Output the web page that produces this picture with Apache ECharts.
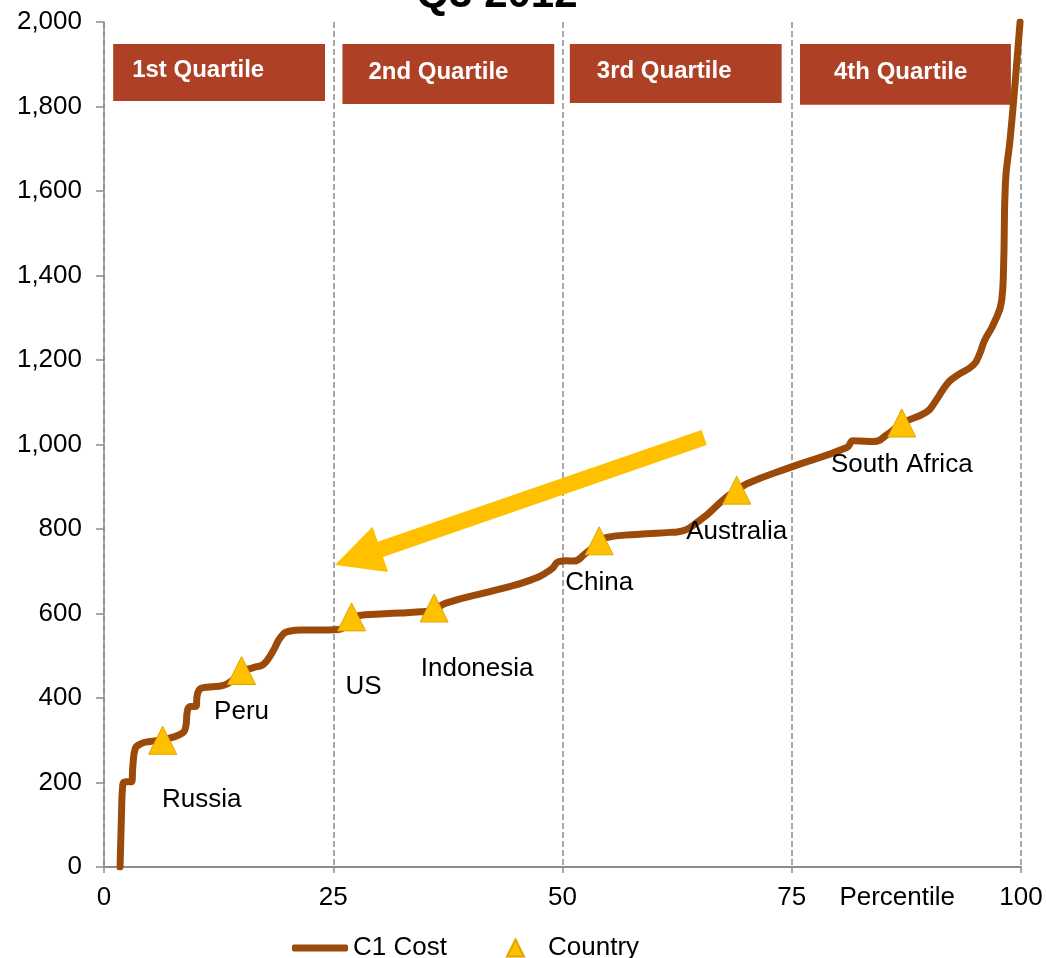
<!DOCTYPE html>
<html>
<head>
<meta charset="utf-8">
<script src="https://cdn.jsdelivr.net/npm/echarts@6/dist/echarts.min.js"></script>
<style>
html,body{margin:0;padding:0;background:#fff;}
#chart{width:1046px;height:958px;}
</style>
</head>
<body>
<div id="chart"></div>
<script>
// ---- data ----
var c1Cost = [
  [1.75,0],[1.9,120],[2.05,195],[2.4,202],[3.0,202],[3.15,240],[3.4,280],[4.2,293],[5.0,297],
  [6.5,302],[8.3,314],[8.9,330],[9.1,370],[9.4,380],[10.0,380],[10.2,410],[10.6,423],[11.5,426],
  [13.0,430],[14.2,445],[15.0,462],[16.3,472],[17.4,480],[18.4,510],[19.3,545],[20.2,558],
  [21.5,561],[24.5,561],[25.6,562],[26.5,575],[27.5,593],[28.5,597],[32.3,601],[34.5,604],
  [36.0,608],[37.2,624],[42.8,656],[46.5,679],[48.8,705],[49.6,723],[50.5,725],[51.2,724],
  [52.5,742],[54.0,768],[54.8,780],[58.0,787],[61.7,792],[62.5,793],[65.0,821],[67.9,876],
  [69.0,890],[70.1,907],[75.0,947],[81.0,993],[81.7,1009],[82.5,1008],[83.9,1007],[85.5,1025],
  [87.0,1050],[89.7,1077],[90.6,1100],[92.0,1145],[93.0,1163],[94.8,1188],[95.5,1215],
  [96.0,1245],[97.0,1285],[97.9,1342],[98.1,1420],[98.3,1618],[98.8,1720],[99.2,1815],
  [99.6,1920],[99.9,2000]
];
var countryNames = ['Russia','Peru','US','Indonesia','China','Australia','South Africa'];
var countryX = [6.4, 15, 27, 36, 54, 69, 87];
var countryY = [300, 465, 592, 613, 772, 892, 1051];
var quartileNames = ['1st Quartile','2nd Quartile','3rd Quartile','4th Quartile'];
var xTicks = [0, 25, 50, 75, 100];
var titleText = 'Q3 2012';
var xAxisTitle = 'Percentile';

// ---- layout (not data) ----
var FONT = '"Liberation Sans", Arial, sans-serif';
var labelOffsets = [[39,27],[0,9],[12,37],[43,28],[0,9],[0,9],[0,9]];
var boxRanges = [[1.0,24.1,1813],[26.0,49.1,1806],[50.8,73.9,1808],[75.9,98.9,1804]];
var boxTop = 1948;
var boxTextInset = [19,26,27,34];

var chart = echarts.init(document.getElementById('chart'));

var countryData = countryNames.map(function(n,i){
  return {
    name: n,
    value: [countryX[i], countryY[i]],
    label: { offset: labelOffsets[i] }
  };
});

var areaData = quartileNames.map(function(n,i){
  return [
    { name: n, xAxis: boxRanges[i][0], yAxis: boxTop,
      label: { distance: boxTextInset[i] } },
    { xAxis: boxRanges[i][1], yAxis: boxRanges[i][2] }
  ];
});

var option = {
  animation: false,
  textStyle: { fontFamily: FONT },
  grid: { left: 104, right: 25, top: 22, bottom: 91, containLabel: false },
  xAxis: {
    type: 'value', min: 0, max: 100, interval: 25,
    axisLine: { lineStyle: { color: '#8c8c8c', width: 2 } },
    axisTick: { show: true, length: 8, lineStyle: { color: '#8c8c8c', type: 'dashed', width: 1.5 } },
    axisLabel: { color: '#000', fontSize: 26, fontFamily: FONT, margin: 18,
      formatter: function(v){ return xTicks.indexOf(v) >= 0 ? String(v) : ''; } },
    splitLine: { show: true, lineStyle: { color: '#8c8c8c', type: 'dashed', width: 1.5 } }
  },
  yAxis: {
    type: 'value', min: 0, max: 2000, interval: 200,
    axisLine: { show: true, lineStyle: { color: '#8c8c8c', width: 1.5 } },
    axisTick: { show: true, length: 8, lineStyle: { color: '#8c8c8c', width: 1.5 } },
    axisLabel: { color: '#000', fontSize: 26, fontFamily: FONT, margin: 22,
      formatter: function(v){ return v.toLocaleString('en-US'); } },
    splitLine: { show: false }
  },
  legend: [
    { data: [{ name: 'C1 Cost', icon: 'roundRect' }], left: 292, top: 935, padding: 0,
      itemWidth: 56, itemHeight: 7, textStyle: { fontSize: 26, color: '#000', fontFamily: FONT } },
    { data: [{ name: 'Country', icon: 'triangle' }], left: 506, top: 935, padding: 0,
      itemWidth: 17, itemHeight: 17,
      textStyle: { fontSize: 26, color: '#000', fontFamily: FONT, padding: [0,0,0,19] } }
  ],
  series: [
    {
      name: 'C1 Cost', type: 'line', data: c1Cost,
      showSymbol: false, symbol: 'none', smooth: 0.5,
      lineStyle: { color: '#9C4A0A', width: 7, cap: 'round', join: 'round' },
      itemStyle: { color: '#9C4A0A' },
      z: 3,
      markArea: {
        silent: true,
        itemStyle: { color: '#AE4125' },
        label: { show: true, position: 'insideLeft', color: '#fff', fontWeight: 'bold',
          fontSize: 24, fontFamily: FONT, offset: [0, -2] },
        data: areaData
      }
    },
    {
      name: 'Country', type: 'scatter', data: countryData,
      symbol: 'triangle', symbolSize: 28,
      itemStyle: { color: '#FFC000', borderColor: '#E0A400', borderWidth: 1, opacity: 1 },
      label: { show: true, position: 'bottom', color: '#000', fontSize: 26, fontFamily: FONT,
        formatter: function(p){ return p.name; } },
      z: 4
    }
  ]
};
chart.setOption(option);

// annotations computed from data coordinates
function px(pt){ return chart.convertToPixel({ gridIndex: 0 }, pt); }
var tail = px([65.45, 1016.6]);
var tip = px([25.19, 714.8]);
var dx = tail[0]-tip[0], dy = tail[1]-tip[1];
var len = Math.sqrt(dx*dx+dy*dy);
var ux = dx/len, uy = dy/len, nx = -uy, ny = ux;
var L = 48, W = 48, w = 16;
var bx = tip[0]+ux*L, by = tip[1]+uy*L;
var arrowPts = [
  [tip[0], tip[1]],
  [bx+nx*W/2, by+ny*W/2],
  [bx+nx*w/2, by+ny*w/2],
  [tail[0]+nx*w/2, tail[1]+ny*w/2],
  [tail[0]-nx*w/2, tail[1]-ny*w/2],
  [bx-nx*w/2, by-ny*w/2],
  [bx-nx*W/2, by-ny*W/2]
];
var pctPos = px([86.5, 0]);

chart.setOption({
  graphic: [
    { type: 'polygon', z: 10, shape: { points: arrowPts }, style: { fill: '#FFC000' } },
    { type: 'text', z: 10, x: 497, y: -5,
      style: { text: titleText, fill: '#000', font: 'bold 42px ' + FONT, align: 'center', verticalAlign: 'middle' } },
    { type: 'text', z: 10, x: pctPos[0], y: pctPos[1] + 31,
      style: { text: xAxisTitle, fill: '#000', font: '26px ' + FONT, align: 'center', verticalAlign: 'middle' } }
  ]
});
</script>
</body>
</html>
